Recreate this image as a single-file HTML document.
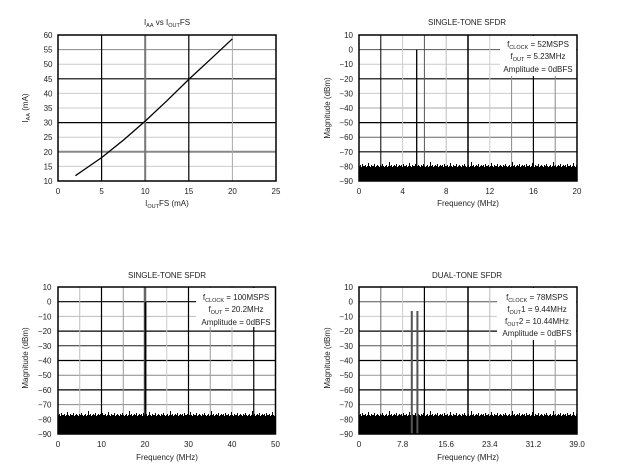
<!DOCTYPE html>
<html><head><meta charset="utf-8"><style>
html,body{margin:0;padding:0;background:#fff;}
svg{display:block;}
text{font-family:"Liberation Sans",Arial,sans-serif;font-size:8px;fill:#222;}
.t{text-anchor:middle;}
.e{text-anchor:end;}
.sub{font-size:5.5px;}
</style></head><body>
<svg width="620" height="472" viewBox="0 0 620 472" xmlns="http://www.w3.org/2000/svg">
<defs>
<pattern id="nz" width="41" height="200" patternUnits="userSpaceOnUse">
<path fill="#000" d="M0,200 V4 H1 V3 H2 V5 H3 V2 H4 V4 H5 V4 H6 V3 H7 V5 H8 V4 H9 V1 H10 V4 H11 V5 H12 V3 H13 V4 H14 V4 H15 V2 H16 V5 H17 V4 H18 V3 H19 V4 H20 V5 H21 V3 H22 V4 H23 V2 H24 V4 H25 V5 H26 V4 H27 V3 H28 V5 H29 V4 H30 V0 H31 V4 H32 V3 H33 V5 H34 V4 H35 V3 H36 V4 H37 V2 H38 V5 H39 V4 H40 V3 H41 V200 Z"/>
</pattern>
</defs>
<rect width="620" height="472" fill="#fff"/>

<!-- ============ CHART 1 ============ -->
<g fill="none">
<line x1="58" x2="276" y1="166.4" y2="166.4" stroke="#ccc" stroke-width="1"/>
<line x1="58" x2="276" y1="151.8" y2="151.8" stroke="#888" stroke-width="2"/>
<line x1="58" x2="276" y1="137.2" y2="137.2" stroke="#ccc" stroke-width="1"/>
<line x1="58" x2="276" y1="122.6" y2="122.6" stroke="#000" stroke-width="1.2"/>
<line x1="58" x2="276" y1="108" y2="108" stroke="#ccc" stroke-width="1"/>
<line x1="58" x2="276" y1="93.4" y2="93.4" stroke="#ccc" stroke-width="1"/>
<line x1="58" x2="276" y1="78.8" y2="78.8" stroke="#000" stroke-width="1.2"/>
<line x1="58" x2="276" y1="64.2" y2="64.2" stroke="#ccc" stroke-width="1"/>
<line x1="58" x2="276" y1="49.6" y2="49.6" stroke="#888" stroke-width="1"/>
<line x1="101.6" x2="101.6" y1="35" y2="181" stroke="#000" stroke-width="1.2"/>
<line x1="145.2" x2="145.2" y1="35" y2="181" stroke="#777" stroke-width="2"/>
<line x1="188.8" x2="188.8" y1="35" y2="181" stroke="#000" stroke-width="1.2"/>
<line x1="232.4" x2="232.4" y1="35" y2="181" stroke="#aaa" stroke-width="1"/>
<rect x="58" y="35" width="218" height="146" stroke="#000" stroke-width="1.5"/>
<polyline stroke="#000" stroke-width="1.3" points="75.4,175.7 88,167 101.6,157.6 123.4,140.1 145.2,121.1 167,100.7 188.8,79.4 210.6,59.2 232.4,38.8"/>
</g>
<text class="t" x="167" y="25">I<tspan class="sub" dy="2">AA</tspan><tspan dy="-2"> vs I</tspan><tspan class="sub" dy="2">OUT</tspan><tspan dy="-2">FS</tspan></text>
<g class="e">
<text class="e" x="52.5" y="38">60</text>
<text class="e" x="52.5" y="52.6">55</text>
<text class="e" x="52.5" y="67.2">50</text>
<text class="e" x="52.5" y="81.8">45</text>
<text class="e" x="52.5" y="96.4">40</text>
<text class="e" x="52.5" y="111">35</text>
<text class="e" x="52.5" y="125.6">30</text>
<text class="e" x="52.5" y="140.2">25</text>
<text class="e" x="52.5" y="154.8">20</text>
<text class="e" x="52.5" y="169.4">15</text>
<text class="e" x="52.5" y="184">10</text>
</g>
<text class="t" x="58" y="194">0</text>
<text class="t" x="101.6" y="194">5</text>
<text class="t" x="145.2" y="194">10</text>
<text class="t" x="188.8" y="194">15</text>
<text class="t" x="232.4" y="194">20</text>
<text class="t" x="276" y="194">25</text>
<text class="t" x="167" y="206">I<tspan class="sub" dy="2">OUT</tspan><tspan dy="-2">FS (mA)</tspan></text>
<text class="t" transform="translate(28,108) rotate(-90)">I<tspan class="sub" dy="2">AA</tspan><tspan dy="-2"> (mA)</tspan></text>

<!-- ============ CHART 2 ============ -->
<g fill="none">
<line x1="359" x2="577" y1="49.6" y2="49.6" stroke="#555" stroke-width="1"/>
<line x1="359" x2="577" y1="64.2" y2="64.2" stroke="#ccc" stroke-width="1"/>
<line x1="359" x2="577" y1="78.8" y2="78.8" stroke="#000" stroke-width="1.2"/>
<line x1="359" x2="577" y1="93.4" y2="93.4" stroke="#ccc" stroke-width="1"/>
<line x1="359" x2="577" y1="108" y2="108" stroke="#aaa" stroke-width="1"/>
<line x1="359" x2="577" y1="122.6" y2="122.6" stroke="#000" stroke-width="1.2"/>
<line x1="359" x2="577" y1="137.2" y2="137.2" stroke="#666" stroke-width="1"/>
<line x1="359" x2="577" y1="151.8" y2="151.8" stroke="#444" stroke-width="1.5"/>
<line x1="380.8" x2="380.8" y1="35" y2="181" stroke="#000" stroke-width="1"/>
<line x1="402.6" x2="402.6" y1="35" y2="181" stroke="#ccc" stroke-width="1"/>
<line x1="424.4" x2="424.4" y1="35" y2="181" stroke="#555" stroke-width="1"/>
<line x1="446.2" x2="446.2" y1="35" y2="181" stroke="#bbb" stroke-width="1"/>
<line x1="468" x2="468" y1="35" y2="181" stroke="#000" stroke-width="1.5"/>
<line x1="489.8" x2="489.8" y1="35" y2="181" stroke="#ccc" stroke-width="1"/>
<line x1="511.6" x2="511.6" y1="35" y2="181" stroke="#888" stroke-width="1"/>
<line x1="533.4" x2="533.4" y1="35" y2="181" stroke="#000" stroke-width="1.2"/>
<line x1="555.2" x2="555.2" y1="35" y2="181" stroke="#888" stroke-width="1"/>
<rect x="500" y="36" width="76" height="40" fill="#fff" stroke="none"/>
<g transform="translate(359,162)"><rect x="0" y="0" width="218" height="19" fill="url(#nz)"/></g>
<line x1="416.7" x2="416.7" y1="49.6" y2="181" stroke="#000" stroke-width="1.3"/>
<rect x="359" y="35" width="218" height="146" stroke="#000" stroke-width="1.5"/>
</g>
<text class="t" x="467" y="25">SINGLE-TONE SFDR</text>
<text class="t" x="538" y="47">f<tspan class="sub" dy="2">CLOCK</tspan><tspan dy="-2"> = 52MSPS</tspan></text>
<text class="t" x="538" y="59">f<tspan class="sub" dy="2">OUT</tspan><tspan dy="-2"> = 5.23MHz</tspan></text>
<text class="t" x="538" y="72">Amplitude = 0dBFS</text>
<text class="e" x="353" y="38">10</text>
<text class="e" x="353" y="52.6">0</text>
<text class="e" x="353" y="67.2">−10</text>
<text class="e" x="353" y="81.8">−20</text>
<text class="e" x="353" y="96.4">−30</text>
<text class="e" x="353" y="111">−40</text>
<text class="e" x="353" y="125.6">−50</text>
<text class="e" x="353" y="140.2">−60</text>
<text class="e" x="353" y="154.8">−70</text>
<text class="e" x="353" y="169.4">−80</text>
<text class="e" x="353" y="184">−90</text>
<text class="t" x="359" y="194">0</text>
<text class="t" x="402.6" y="194">4</text>
<text class="t" x="446.2" y="194">8</text>
<text class="t" x="489.8" y="194">12</text>
<text class="t" x="533.4" y="194">16</text>
<text class="t" x="577" y="194">20</text>
<text class="t" x="468" y="206">Frequency (MHz)</text>
<text class="t" transform="translate(330,108) rotate(-90)">Magnitude (dBm)</text>

<!-- ============ CHART 3 ============ -->
<g fill="none">
<line x1="58" x2="275.5" y1="301.7" y2="301.7" stroke="#000" stroke-width="1.2"/>
<line x1="58" x2="275.5" y1="316.4" y2="316.4" stroke="#bbb" stroke-width="1"/>
<line x1="58" x2="275.5" y1="331.1" y2="331.1" stroke="#000" stroke-width="1.2"/>
<line x1="58" x2="275.5" y1="345.8" y2="345.8" stroke="#222" stroke-width="1"/>
<line x1="58" x2="275.5" y1="360.5" y2="360.5" stroke="#000" stroke-width="1.2"/>
<line x1="58" x2="275.5" y1="375.2" y2="375.2" stroke="#888" stroke-width="1"/>
<line x1="58" x2="275.5" y1="389.9" y2="389.9" stroke="#000" stroke-width="1.2"/>
<line x1="58" x2="275.5" y1="404.6" y2="404.6" stroke="#888" stroke-width="1"/>
<line x1="79.75" x2="79.75" y1="287" y2="434" stroke="#bbb" stroke-width="1"/>
<line x1="101.5" x2="101.5" y1="287" y2="434" stroke="#000" stroke-width="1.2"/>
<line x1="123.25" x2="123.25" y1="287" y2="434" stroke="#999" stroke-width="1"/>
<line x1="145" x2="145" y1="287" y2="434" stroke="#666" stroke-width="2.5"/>
<line x1="166.75" x2="166.75" y1="287" y2="434" stroke="#ccc" stroke-width="1"/>
<line x1="188.5" x2="188.5" y1="287" y2="434" stroke="#000" stroke-width="1.2"/>
<line x1="210.25" x2="210.25" y1="287" y2="434" stroke="#999" stroke-width="1"/>
<line x1="232" x2="232" y1="287" y2="434" stroke="#bbb" stroke-width="1"/>
<line x1="253.75" x2="253.75" y1="287" y2="434" stroke="#000" stroke-width="1.2"/>
<rect x="196" y="288" width="79" height="39" fill="#fff" stroke="none"/>
<g transform="translate(58,411)"><rect x="0" y="0" width="217.5" height="23" fill="url(#nz)"/></g>
<line x1="145.5" x2="145.5" y1="301.7" y2="434" stroke="#000" stroke-width="1.8"/>
<rect x="58" y="287" width="217.5" height="147" stroke="#000" stroke-width="1.5"/>
</g>
<text class="t" x="167" y="278">SINGLE-TONE SFDR</text>
<text class="t" x="236" y="300">f<tspan class="sub" dy="2">CLOCK</tspan><tspan dy="-2"> = 100MSPS</tspan></text>
<text class="t" x="236" y="312">f<tspan class="sub" dy="2">OUT</tspan><tspan dy="-2"> = 20.2MHz</tspan></text>
<text class="t" x="236" y="325">Amplitude = 0dBFS</text>
<text class="e" x="51.5" y="290">10</text>
<text class="e" x="51.5" y="304.7">0</text>
<text class="e" x="51.5" y="319.4">−10</text>
<text class="e" x="51.5" y="334.1">−20</text>
<text class="e" x="51.5" y="348.8">−30</text>
<text class="e" x="51.5" y="363.5">−40</text>
<text class="e" x="51.5" y="378.2">−50</text>
<text class="e" x="51.5" y="392.9">−60</text>
<text class="e" x="51.5" y="407.6">−70</text>
<text class="e" x="51.5" y="422.3">−80</text>
<text class="e" x="51.5" y="437">−90</text>
<text class="t" x="58" y="447">0</text>
<text class="t" x="101.5" y="447">10</text>
<text class="t" x="145" y="447">20</text>
<text class="t" x="188.5" y="447">30</text>
<text class="t" x="232" y="447">40</text>
<text class="t" x="275.5" y="447">50</text>
<text class="t" x="167" y="460">Frequency (MHz)</text>
<text class="t" transform="translate(28,358) rotate(-90)">Magnitude (dBm)</text>

<!-- ============ CHART 4 ============ -->
<g fill="none">
<line x1="359" x2="577" y1="301.7" y2="301.7" stroke="#555" stroke-width="1"/>
<line x1="359" x2="577" y1="316.4" y2="316.4" stroke="#ccc" stroke-width="1"/>
<line x1="359" x2="577" y1="331.1" y2="331.1" stroke="#000" stroke-width="1.2"/>
<line x1="359" x2="577" y1="345.8" y2="345.8" stroke="#555" stroke-width="1"/>
<line x1="359" x2="577" y1="360.5" y2="360.5" stroke="#000" stroke-width="1.2"/>
<line x1="359" x2="577" y1="375.2" y2="375.2" stroke="#999" stroke-width="1"/>
<line x1="359" x2="577" y1="389.9" y2="389.9" stroke="#000" stroke-width="1.2"/>
<line x1="359" x2="577" y1="404.6" y2="404.6" stroke="#888" stroke-width="1"/>
<line x1="380.8" x2="380.8" y1="287" y2="434" stroke="#666" stroke-width="1"/>
<line x1="402.6" x2="402.6" y1="287" y2="434" stroke="#ccc" stroke-width="1"/>
<line x1="424.4" x2="424.4" y1="287" y2="434" stroke="#000" stroke-width="1.2"/>
<line x1="446.2" x2="446.2" y1="287" y2="434" stroke="#ccc" stroke-width="1"/>
<line x1="468" x2="468" y1="287" y2="434" stroke="#000" stroke-width="1.5"/>
<line x1="489.8" x2="489.8" y1="287" y2="434" stroke="#bbb" stroke-width="1"/>
<line x1="511.6" x2="511.6" y1="287" y2="434" stroke="#999" stroke-width="1"/>
<line x1="533.4" x2="533.4" y1="287" y2="434" stroke="#000" stroke-width="1.2"/>
<line x1="555.2" x2="555.2" y1="287" y2="434" stroke="#999" stroke-width="1"/>
<rect x="497" y="288" width="79" height="52" fill="#fff" stroke="none"/>
<g transform="translate(359,411)"><rect x="0" y="0" width="218" height="23" fill="url(#nz)"/></g>
<line x1="411.8" x2="411.8" y1="311" y2="434" stroke="#555" stroke-width="2"/>
<line x1="417.4" x2="417.4" y1="311" y2="434" stroke="#555" stroke-width="2"/>
<rect x="359" y="287" width="218" height="147" stroke="#000" stroke-width="1.5"/>
</g>
<text class="t" x="467" y="278">DUAL-TONE SFDR</text>
<text class="t" x="537" y="300">f<tspan class="sub" dy="2">CLOCK</tspan><tspan dy="-2"> = 78MSPS</tspan></text>
<text class="t" x="537" y="312">f<tspan class="sub" dy="2">OUT</tspan><tspan dy="-2">1 = 9.44MHz</tspan></text>
<text class="t" x="537" y="324">f<tspan class="sub" dy="2">OUT</tspan><tspan dy="-2">2 = 10.44MHz</tspan></text>
<text class="t" x="537" y="336">Amplitude = 0dBFS</text>
<text class="e" x="353" y="290">10</text>
<text class="e" x="353" y="304.7">0</text>
<text class="e" x="353" y="319.4">−10</text>
<text class="e" x="353" y="334.1">−20</text>
<text class="e" x="353" y="348.8">−30</text>
<text class="e" x="353" y="363.5">−40</text>
<text class="e" x="353" y="378.2">−50</text>
<text class="e" x="353" y="392.9">−60</text>
<text class="e" x="353" y="407.6">−70</text>
<text class="e" x="353" y="422.3">−80</text>
<text class="e" x="353" y="437">−90</text>
<text class="t" x="359" y="447">0</text>
<text class="t" x="402.6" y="447">7.8</text>
<text class="t" x="446.2" y="447">15.6</text>
<text class="t" x="489.8" y="447">23.4</text>
<text class="t" x="533.4" y="447">31.2</text>
<text class="t" x="577" y="447">39.0</text>
<text class="t" x="468" y="460">Frequency (MHz)</text>
<text class="t" transform="translate(330,358) rotate(-90)">Magnitude (dBm)</text>
</svg>
</body></html>
